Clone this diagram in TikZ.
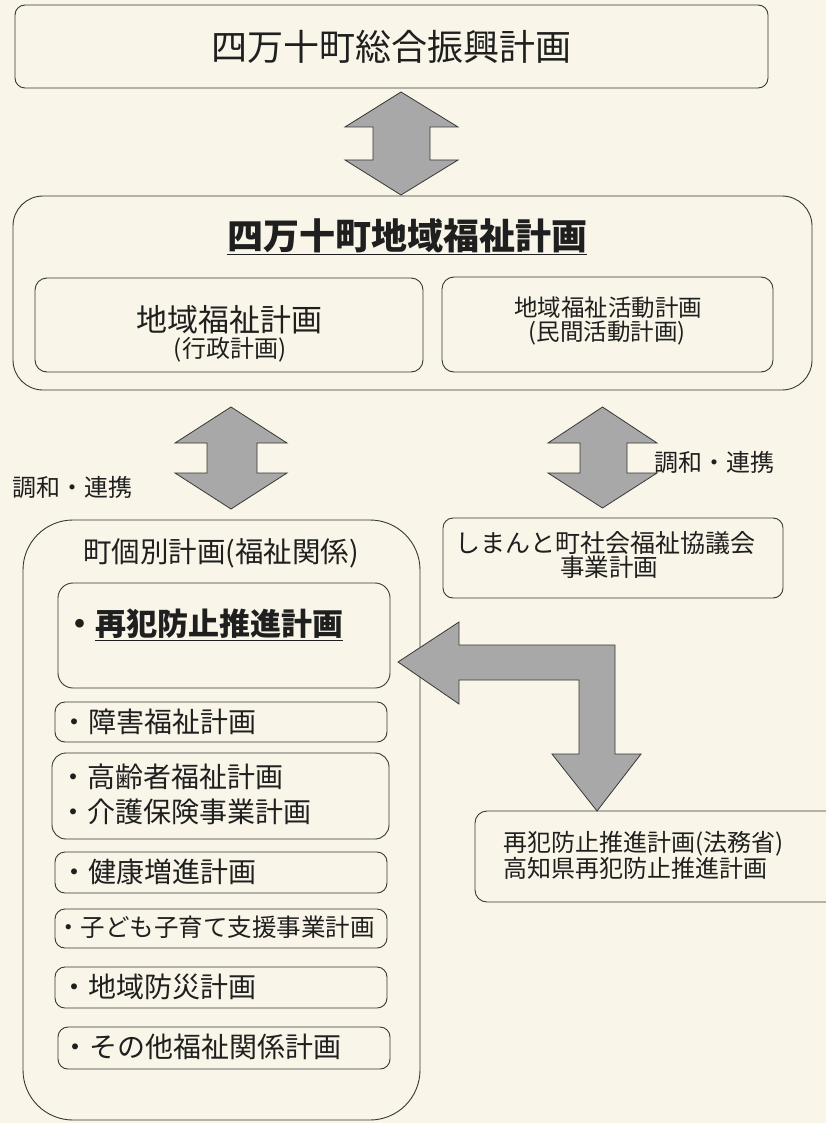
\documentclass[tikz,border=0pt]{standalone}
\usepackage{fontspec}
\setmainfont{Noto Sans CJK JP}
\definecolor{bgcol}{RGB}{249,245,232}
\definecolor{linecol}{RGB}{55,55,55}
\definecolor{arrowgray}{RGB}{168,168,168}
\newcommand{\fs}[1]{\fontsize{#1pt}{#1pt}\selectfont}
\tikzset{
  box/.style={draw=linecol, line width=0.9pt, rounded corners=10pt, inner sep=0pt},
  txt/.style={inner sep=0pt, text=black!88},
  blockarrow/.style={fill=arrowgray, draw=linecol, line width=0.8pt, line join=miter}
}
\begin{document}
\begin{tikzpicture}[x=1pt,y=-1pt]
\fill[bgcol] (0,0) rectangle (826,1123);
\useasboundingbox (0,0) rectangle (826,1123);

% top box
\node[box, minimum width=753pt, minimum height=83pt] (top) at (391.5,46.5) {};
\node[txt] (toptxt) at (391,47) {\fs{36}四万十町総合振興計画};

% main welfare plan box
\node[box, rounded corners=30pt, minimum width=799pt, minimum height=194pt] (main) at (412.5,293) {};
\node[txt] (maintxt) at (407,237) {\fs{36}\bfseries\underline{四万十町地域福祉計画}};
\node[box, rounded corners=12pt, minimum width=388pt, minimum height=94pt] (inL) at (229,325) {};
\node[txt] (inL1) at (229,320) {\fs{31}地域福祉計画};
\node[txt] (inL2) at (230,350) {\fs{24}(行政計画)};
\node[box, rounded corners=12pt, minimum width=331pt, minimum height=95pt] (inR) at (607.5,324.5) {};
\node[txt] (inR1) at (608,308) {\fs{23.5}地域福祉活動計画};
\node[txt] (inR2) at (607,333) {\fs{23.5}(民間活動計画)};

% arrow top <-> main
\draw[blockarrow] (401,92) -- (458,127) -- (430,127) -- (430,160) -- (458,160) -- (401,195)
  -- (345,160) -- (373,160) -- (373,127) -- (345,127) -- cycle;

% arrows below main
\draw[blockarrow] (231,407) -- (287,443) -- (257,443) -- (257,473) -- (287,473) -- (231,509)
  -- (175,473) -- (207,473) -- (207,443) -- (175,443) -- cycle;
\draw[blockarrow] (602.5,407) -- (657,443) -- (627,443) -- (627,473) -- (657,473) -- (602.5,508)
  -- (548,473) -- (580,473) -- (580,443) -- (548,443) -- cycle;

\node[txt] (lblL) at (72.5,487) {\fs{24}調和・連携};
\node[txt] (lblR) at (714,462) {\fs{24}調和・連携};

% individual plans box
\node[box, rounded corners=50pt, minimum width=397pt, minimum height=600pt] (indiv) at (221.5,820) {};
\node[txt] (indivtxt) at (221,553) {\fs{28.5}町個別計画(福祉関係)};

\node[box, rounded corners=15pt, minimum width=332pt, minimum height=105pt] (s1) at (224,635.5) {};
\node[txt, anchor=west] (s1t) at (64,625) {\fs{31}\bfseries ・\underline{再犯防止推進計画}};

\node[box, minimum width=332pt, minimum height=40pt] (s2) at (221,722) {};
\node[txt, anchor=west] (s2t) at (60,722) {\fs{28}・障害福祉計画};

\node[box, rounded corners=14pt, minimum width=337pt, minimum height=86pt] (s3) at (220.5,796) {};
\node[txt, anchor=west] (s3a) at (59,777) {\fs{28}・高齢者福祉計画};
\node[txt, anchor=west] (s3b) at (59,812) {\fs{28}・介護保険事業計画};

\node[box, minimum width=332pt, minimum height=41pt] (s4) at (221,872.5) {};
\node[txt, anchor=west] (s4t) at (60,872) {\fs{28}・健康増進計画};

\node[box, minimum width=332pt, minimum height=39pt] (s5) at (221,928.5) {};
\node[txt, anchor=west] (s5t) at (56,927) {\fs{24.5}・子ども子育て支援事業計画};

\node[box, minimum width=332pt, minimum height=41pt] (s6) at (221,987.5) {};
\node[txt, anchor=west] (s6t) at (60,987) {\fs{28}・地域防災計画};

\node[box, minimum width=332pt, minimum height=42pt] (s7) at (224,1048) {};
\node[txt, anchor=west] (s7t) at (61,1047) {\fs{28}・その他福祉関係計画};

% social welfare council box
\node[box, minimum width=340pt, minimum height=80pt] (shakyo) at (613,558) {};
\node[txt] (shakyo1) at (605,543) {\fs{25}しまんと町社会福祉協議会};
\node[txt] (shakyo2) at (609,567) {\fs{24.5}事業計画};

% L-shaped arrow
\draw[blockarrow] (398,662) -- (459,622) -- (459,645) -- (615,645) -- (615,754) -- (641,754)
  -- (597,811) -- (552,754) -- (579,754) -- (579,680) -- (459,680) -- (459,704) -- cycle;

% ministry / prefecture box
\node[box, rounded corners=12pt, minimum width=365pt, minimum height=91pt] (moj) at (657.5,856.5) {};
\node[txt, anchor=west] (moj1) at (503,844) {\fs{24}再犯防止推進計画(法務省)};
\node[txt, anchor=west] (moj2) at (503,868) {\fs{24}高知県再犯防止推進計画};
\end{tikzpicture}
\end{document}
